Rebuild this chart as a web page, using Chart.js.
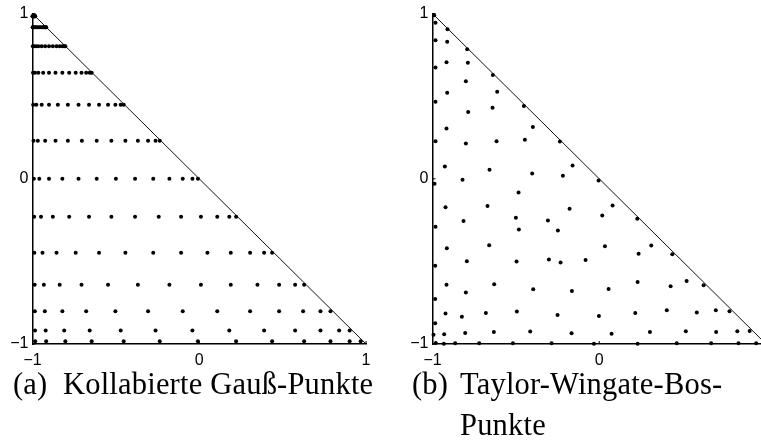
<!DOCTYPE html>
<html>
<head>
<meta charset="utf-8">
<script src="https://cdn.jsdelivr.net/npm/chart.js@4"></script>
<style>
  body { margin: 0; width: 761px; height: 448px; overflow: hidden; background: #fff; position: relative; }
  canvas { position: absolute; top: 0; }
  .cap { position: absolute; font-family: "Liberation Serif", "DejaVu Serif", serif; font-size: 30.5px; letter-spacing: 0.2px; line-height: 41px; color: #000; white-space: nowrap; }
</style>
</head>
<body>
<canvas id="gaussChart" width="380" height="370" style="left:0px"></canvas>
<canvas id="twbChart" width="380" height="370" style="left:400px"></canvas>

<div class="cap" style="left:13px; top:364px">(a)</div>
<div class="cap" style="left:63px; top:364px">Kollabierte Gauß-Punkte</div>
<div class="cap" style="left:412px; top:364px">(b)</div>
<div class="cap" style="left:460px; top:364px">Taylor-Wingate-Bos-<br>Punkte</div>

<script>
// collapsed 13x13 Gauss points, one row per y level
const gaussRowY = [-0.984, -0.918, -0.802, -0.642, -0.448, -0.230, 0, 0.230, 0.448, 0.642, 0.802, 0.918, 0.984];
const gaussRowX = [
    [-0.984, -0.918, -0.803, -0.645, -0.453, -0.237, -0.008, 0.221, 0.437, 0.629, 0.787, 0.902, 0.968],
    [-0.985, -0.921, -0.810, -0.657, -0.471, -0.262, -0.041, 0.180, 0.389, 0.575, 0.727, 0.839, 0.902],
    [-0.986, -0.926, -0.821, -0.678, -0.503, -0.307, -0.099, 0.108, 0.305, 0.479, 0.623, 0.727, 0.787],
    [-0.987, -0.932, -0.837, -0.706, -0.547, -0.368, -0.179, 0.010, 0.189, 0.349, 0.479, 0.575, 0.629],
    [-0.989, -0.940, -0.856, -0.741, -0.601, -0.443, -0.276, -0.109, 0.049, 0.189, 0.305, 0.389, 0.437],
    [-0.990, -0.949, -0.878, -0.780, -0.661, -0.527, -0.385, -0.243, -0.109, 0.010, 0.108, 0.180, 0.221],
    [-0.992, -0.959, -0.901, -0.821, -0.724, -0.615, -0.500, -0.385, -0.276, -0.179, -0.099, -0.041, -0.008],
    [-0.994, -0.968, -0.924, -0.862, -0.788, -0.704, -0.615, -0.527, -0.443, -0.368, -0.307, -0.262, -0.237],
    [-0.996, -0.977, -0.945, -0.901, -0.848, -0.788, -0.724, -0.661, -0.601, -0.547, -0.503, -0.471, -0.453],
    [-0.997, -0.985, -0.965, -0.936, -0.901, -0.862, -0.821, -0.780, -0.741, -0.706, -0.678, -0.657, -0.645],
    [-0.998, -0.992, -0.980, -0.965, -0.945, -0.924, -0.901, -0.878, -0.856, -0.837, -0.821, -0.810, -0.803],
    [-0.999, -0.997, -0.992, -0.985, -0.977, -0.968, -0.959, -0.949, -0.940, -0.932, -0.926, -0.921, -0.918],
    [-1.000, -0.999, -0.998, -0.997, -0.996, -0.994, -0.992, -0.990, -0.989, -0.987, -0.986, -0.985, -0.984]
];

// Taylor-Wingate-Bos points
const twbX = [-0.99, -0.982, -0.910, -0.982, -0.912, -0.792, -0.982, -0.916, -0.788, -0.638,
    -0.800, -0.912, -0.612, -0.982, -0.640, -0.786, -0.452, -0.398, -0.916, -0.982,
    -0.800, -0.616, -0.446, -0.236, -0.926, -0.658, -0.402, -0.218, -0.160, -0.988,
    -0.820, -0.484, -0.922, -0.670, -0.500, -0.308, -0.178, -0.814, -0.482, -0.248,
    -0.982, -0.914, -0.660, -0.984, -0.794, -0.496, -0.302, -0.232, -0.082, -0.916,
    -0.630, -0.800, -0.396, -0.164, -0.984, -0.922, -0.824, -0.680, -0.494, -0.250,
    -0.984, -0.994, -0.930, -0.804, -0.632, -0.414, -0.166, -0.980, -0.932, -0.864,
    -0.720, -0.518, -0.286, -0.004, 0.080, 0.018, 0.228, 0.034, 0.236, 0.312,
    0.438, 0.056, 0.230, 0.428, 0.524, 0.626, -0.002, 0.216, 0.405, 0.585,
    0.699, 0.781, 0.074, 0.304, 0.519, 0.701, 0.828, 0.902, -0.032, 0.230,
    0.465, 0.671, 0.835, 0.941];
const twbY = [0.99, 0.945, 0.905, 0.838, 0.830, 0.784, 0.673, 0.705, 0.703, 0.628,
    0.590, 0.521, 0.527, 0.467, 0.430, 0.404, 0.441, 0.313, 0.305, 0.228,
    0.214, 0.228, 0.236, 0.226, 0.075, 0.055, 0.032, 0.018, 0.081, -0.030,
    -0.006, -0.083, -0.172, -0.165, -0.236, -0.253, -0.182, -0.256, -0.307, -0.313,
    -0.291, -0.420, -0.402, -0.527, -0.499, -0.501, -0.489, -0.507, -0.491, -0.641,
    -0.639, -0.689, -0.668, -0.679, -0.727, -0.816, -0.835, -0.812, -0.804, -0.824,
    -0.875, -0.944, -0.941, -0.933, -0.927, -0.925, -0.935, -0.994, -0.998, -0.995,
    -0.995, -0.995, -0.995, -0.010, -0.162, -0.222, -0.242, -0.408, -0.453, -0.404,
    -0.456, -0.667, -0.624, -0.650, -0.618, -0.644, -0.830, -0.812, -0.796, -0.810,
    -0.796, -0.802, -0.938, -0.927, -0.923, -0.927, -0.923, -0.921, -0.998, -0.998,
    -0.995, -0.995, -0.995, -0.995];

// hypotenuse of the reference triangle
const edgeX = [-1, 1];
const edgeY = [1, -1];
const axisTicks = [-1, 0, 1];

const toPoints = (xs, ys) => xs.map((x, i) => ({ x: x, y: ys[i] }));

const gaussPoints = [];
gaussRowY.forEach((y, j) => {
    for (const x of gaussRowX[j]) {
        gaussPoints.push({ x: x, y: y });
    }
});

// short tick marks pointing into the plot, like the old matlab look
const innerTicks = {
    id: 'innerTicks',
    afterDatasetsDraw(chart) {
        const { ctx, scales: { x, y } } = chart;
        ctx.save();
        ctx.strokeStyle = '#000';
        ctx.lineWidth = 1;
        for (const v of axisTicks) {
            const px = x.getPixelForValue(v);
            ctx.beginPath();
            ctx.moveTo(px, y.bottom);
            ctx.lineTo(px, y.bottom - 3);
            ctx.stroke();
            const py = y.getPixelForValue(v);
            ctx.beginPath();
            ctx.moveTo(x.left, py);
            ctx.lineTo(x.left + 3, py);
            ctx.stroke();
        }
        ctx.restore();
    }
};

const tickLabel = (v) => v < 0 ? '\u2212' + Math.abs(v) : String(v);

const makeAxis = (isX) => ({
    type: 'linear',
    min: -1,
    max: 1,
    afterBuildTicks: (scale) => { scale.ticks = axisTicks.map(v => ({ value: v })); },
    afterFit: (scale) => {
        if (isX) scale.height = 26; else scale.width = 32.5;
    },
    grid: { display: false, drawTicks: false },
    border: { display: true, color: '#000', width: 1.5 },
    ticks: {
        autoSkip: false,
        maxRotation: 0,
        padding: isX ? 7 : 4,
        color: '#000',
        font: { family: 'Liberation Sans', size: 16 },
        callback: tickLabel
    }
});

const makeChart = (id, points) => {
    new Chart(document.getElementById(id), {
        type: 'scatter',
        data: {
            datasets: [{
                data: points,
                pointRadius: 2,
                pointHoverRadius: 2,
                pointBackgroundColor: '#000',
                pointBorderWidth: 0,
                clip: false,
                order: 0
            }, {
                data: toPoints(edgeX, edgeY),
                showLine: true,
                borderColor: '#111',
                borderWidth: 1,
                pointRadius: 0,
                clip: false,
                order: 1
            }]
        },
        options: {
            responsive: false,
            animation: false,
            layout: { padding: { top: 13, right: 14, left: 0, bottom: 0 } },
            plugins: { legend: { display: false }, tooltip: { enabled: false } },
            scales: { x: makeAxis(true), y: makeAxis(false) }
        },
        plugins: [innerTicks]
    });
};

makeChart('gaussChart', gaussPoints);
makeChart('twbChart', toPoints(twbX, twbY));
</script>
</body>
</html>
